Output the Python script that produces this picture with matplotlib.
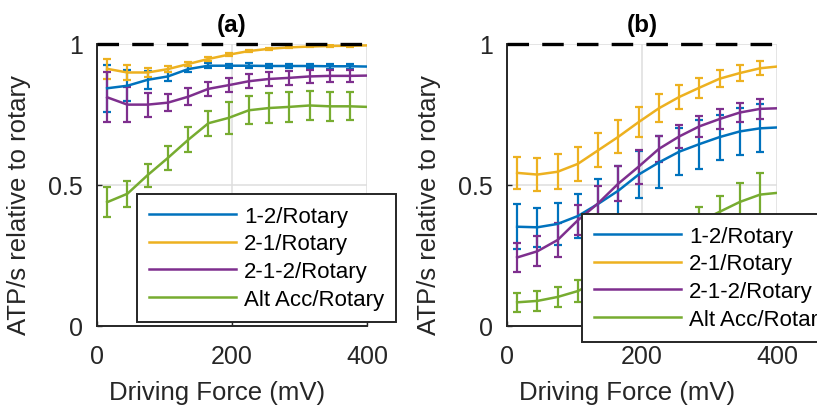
import matplotlib
matplotlib.use("Agg")
import matplotlib.pyplot as plt
import numpy as np

plt.rcParams['font.family'] = ['Liberation Sans', 'DejaVu Sans']
plt.rcParams['lines.scale_dashes'] = False

# driving force points (mV) where error bars sit; curves run on to 400
x_pts = [15, 45, 75, 105, 135, 165, 195, 225, 255, 285, 315, 345, 375]
x_end = 400

labels = ['1-2/Rotary', '2-1/Rotary', '2-1-2/Rotary', 'Alt Acc/Rotary']
colors = ['#0072BD', '#EDB120', '#7E2F8E', '#77AC30']

# panel (a)
a_12 = [0.843, 0.852, 0.873, 0.885, 0.911, 0.923, 0.923, 0.923, 0.922, 0.922, 0.922, 0.921, 0.921]
a_12_err = [0.083, 0.055, 0.033, 0.015, 0.010, 0.008, 0.007, 0.008, 0.008, 0.008, 0.008, 0.008, 0.008]
a_12_end = 0.920
a_21 = [0.912, 0.899, 0.899, 0.911, 0.929, 0.947, 0.962, 0.975, 0.983, 0.988, 0.991, 0.993, 0.994]
a_21_err = [0.035, 0.027, 0.017, 0.010, 0.008, 0.006, 0.005, 0.004, 0.004, 0.003, 0.003, 0.003, 0.003]
a_21_end = 0.995
a_212 = [0.811, 0.785, 0.785, 0.792, 0.813, 0.841, 0.854, 0.868, 0.876, 0.880, 0.885, 0.887, 0.887]
a_212_err = [0.089, 0.062, 0.043, 0.030, 0.030, 0.026, 0.025, 0.024, 0.024, 0.024, 0.023, 0.022, 0.022]
a_212_end = 0.888
a_alt = [0.439, 0.469, 0.535, 0.596, 0.660, 0.719, 0.738, 0.765, 0.773, 0.777, 0.782, 0.779, 0.779]
a_alt_err = [0.053, 0.046, 0.041, 0.042, 0.044, 0.045, 0.056, 0.050, 0.052, 0.052, 0.052, 0.051, 0.050]
a_alt_end = 0.777

# panel (b)
b_12 = [0.352, 0.350, 0.362, 0.390, 0.433, 0.480, 0.537, 0.580, 0.618, 0.645, 0.670, 0.690, 0.701]
b_12_err = [0.080, 0.070, 0.073, 0.079, 0.088, 0.086, 0.082, 0.092, 0.083, 0.087, 0.080, 0.082, 0.085]
b_12_end = 0.704
b_21 = [0.543, 0.537, 0.547, 0.575, 0.623, 0.671, 0.723, 0.772, 0.812, 0.845, 0.877, 0.897, 0.914]
b_21_err = [0.057, 0.058, 0.062, 0.060, 0.060, 0.059, 0.053, 0.050, 0.041, 0.036, 0.031, 0.027, 0.024]
b_21_end = 0.920
b_212 = [0.243, 0.265, 0.305, 0.375, 0.435, 0.505, 0.565, 0.628, 0.672, 0.708, 0.734, 0.757, 0.770]
b_212_err = [0.052, 0.054, 0.060, 0.054, 0.062, 0.062, 0.060, 0.046, 0.041, 0.038, 0.036, 0.033, 0.035]
b_212_end = 0.772
b_alt = [0.084, 0.089, 0.103, 0.124, 0.160, 0.200, 0.240, 0.285, 0.330, 0.370, 0.405, 0.440, 0.466]
b_alt_err = [0.033, 0.035, 0.037, 0.040, 0.042, 0.044, 0.046, 0.048, 0.050, 0.051, 0.057, 0.067, 0.077]
b_alt_end = 0.472

panels = [
    ('(a)', [(a_12, a_12_err, a_12_end), (a_21, a_21_err, a_21_end),
             (a_212, a_212_err, a_212_end), (a_alt, a_alt_err, a_alt_end)]),
    ('(b)', [(b_12, b_12_err, b_12_end), (b_21, b_21_err, b_21_end),
             (b_212, b_212_err, b_212_end), (b_alt, b_alt_err, b_alt_end)]),
]

W, H = 817, 406
fig = plt.figure(figsize=(W / 100, H / 100), dpi=100)

ax_left = [97, 507]
leg_pos = [(137, 323), (582, 343)]   # legend lower-left corner in pixels (from top)
dark = '#262626'

for i, (title, series) in enumerate(panels):
    ax = fig.add_axes([ax_left[i] / W, (H - 327) / H, 270 / W, 282 / H])
    handles = []
    x_curve = list(x_pts) + [x_end]
    for (m, e, end), c, lab in zip(series, colors, labels):
        ax.errorbar(x_pts, m, yerr=e, fmt='none', ecolor=c, elinewidth=1.6,
                    capsize=2.9, capthick=1.6, zorder=3)
        ln, = ax.plot(x_curve, list(m) + [end], color=c, lw=1.8, label=lab, zorder=4)
        handles.append(ln)
    # rotary reference
    ax.plot([0, 400], [1, 1], color='black', lw=2.4, dashes=(15.5, 9.5),
            clip_on=False, zorder=5)

    ax.set_xlim(0, 400)
    ax.set_ylim(0, 1)
    ax.set_xticks([0, 200, 400])
    ax.set_yticks([0, 0.5, 1])
    ax.set_yticklabels(['0', '0.5', '1'])
    ax.grid(True, color='#dedede', lw=1.1)
    ax.set_axisbelow(True)
    for s in ['top', 'right']:
        ax.spines[s].set_visible(False)
    for s in ['left', 'bottom']:
        ax.spines[s].set_color(dark)
        ax.spines[s].set_linewidth(1.4)
    ax.tick_params(direction='in', length=3.6, width=1.0, color=dark,
                   labelsize=18, labelcolor=dark)
    ax.tick_params(axis='x', pad=13)
    ax.tick_params(axis='y', pad=10)
    ax.set_xlabel('Driving Force (mV)', fontsize=18.5, color=dark)
    ax.xaxis.set_label_coords(0.445, -0.19)
    ax.set_ylabel('ATP/s relative to rotary', fontsize=18.5, color=dark)
    ax.yaxis.set_label_coords(-0.245, 0.433)
    ax.set_title(title, fontsize=17.5, fontweight='bold', pad=9)

    lx, ly = leg_pos[i]
    leg = ax.legend(handles=handles, loc='lower left',
                    bbox_to_anchor=(lx / W, (H - ly) / H),
                    bbox_transform=fig.transFigure, fontsize=16,
                    frameon=True, fancybox=False, framealpha=1,
                    edgecolor=dark, borderaxespad=0, borderpad=0.55,
                    handlelength=3.9, handletextpad=0.36, labelspacing=0.3)
    leg.get_frame().set_linewidth(1.4)
    leg.set_zorder(10)
    for t in leg.get_texts():
        t.set_color('black')

fig.savefig('out.png', dpi=100)
